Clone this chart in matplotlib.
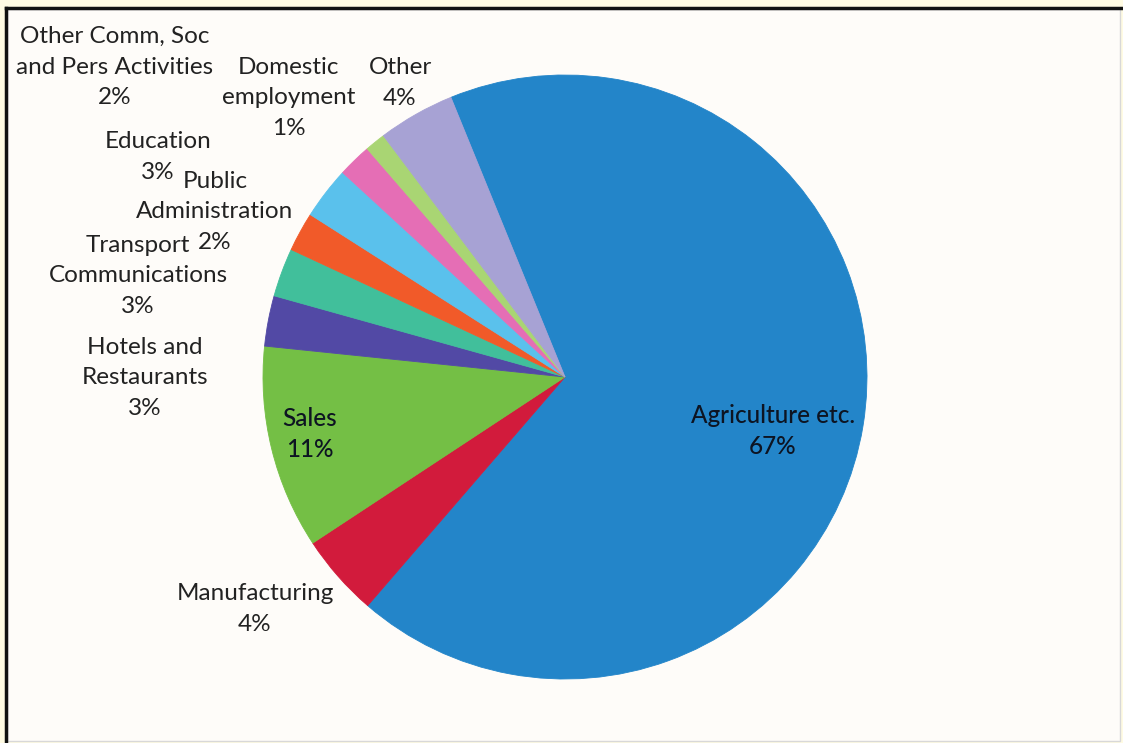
#!/usr/bin/env python3
"""Employment by sector - pie chart, Excel-style data labels."""

import matplotlib
matplotlib.use("Agg")
import matplotlib.pyplot as plt
from matplotlib.patches import Rectangle

# -- Data (clockwise from the top-left boundary of Agriculture) ------------------
sectors = [
    "Agriculture etc.",
    "Manufacturing",
    "Sales",
    "Hotels and\nRestaurants",
    "Transport\nCommunications",
    "Public\nAdministration",
    "Education",
    "Other Comm, Soc\nand Pers Activities",
    "Domestic\nemployment",
    "Other",
]
shares = [67.5, 4.4, 10.9, 2.7, 2.6, 2.1, 2.8, 1.8, 1.1, 4.1]   # % (slice size)
shown_pct = [67, 4, 11, 3, 3, 2, 3, 2, 1, 4]                    # % as labelled

colors = [
    "#2385c9", "#d21b3c", "#74bf45", "#5249a5", "#41bf9b",
    "#f15a29", "#5ac1ec", "#e56eb5", "#a9d573", "#a7a2d4",
]

# label centres in image pixels (x, y from top)
label_pos = [
    (773, 431), (255, 609), (310, 434), (145, 378), (138, 276),
    (215, 212), (158, 157), (115, 67), (289, 98), (400, 83),
]
LINE_H = 30.5   # px between label lines

W, H = 1123, 743
fig = plt.figure(figsize=(W / 100, H / 100), dpi=100)
fig.patch.set_facecolor("#fffbe3")

# inner white panel with dark top/left border
fig.patches.append(Rectangle((7 / W, 2 / H), (W - 10) / W, (H - 11) / H,
                             transform=fig.transFigure, facecolor="#fefcf9",
                             edgecolor="#d8d8d8", linewidth=1.0, zorder=-10))
fig.lines.append(plt.Line2D([6 / W, 6 / W], [2 / H, (H - 8) / H], transform=fig.transFigure,
                            color="#111111", linewidth=2.5, zorder=-5))
fig.lines.append(plt.Line2D([6 / W, 1.0], [(H - 8) / H, (H - 8) / H], transform=fig.transFigure,
                            color="#111111", linewidth=2.5, zorder=-5))

ax = fig.add_axes([0, 0, 1, 1])
ax.set_facecolor("none")

wedges, _ = ax.pie(
    shares, colors=colors, startangle=112.2, counterclock=False,
    center=(565, H - 377), radius=302,
    wedgeprops=dict(linewidth=0.6),
)
for w in wedges:
    w.set_edgecolor(w.get_facecolor())
ax.set_xlim(0, W)
ax.set_ylim(0, H)
ax.set_aspect("equal")
ax.axis("off")

# one text per line so neighbouring labels can interleave like Excel's
for name, pct, (x, y) in zip(sectors, shown_pct, label_pos):
    inside = name in ("Agriculture etc.", "Sales")
    lines = f"{name}\n{pct}%".split("\n")
    y0 = y - (len(lines) - 1) * LINE_H / 2
    for i, line in enumerate(lines):
        ax.text(x, H - (y0 + i * LINE_H), line, ha="center", va="center",
                fontsize=17.5, family="Lato",
                color="#0d1422" if inside else "#222222",
                fontweight="medium" if inside else "normal")

fig.savefig("out.png", dpi=100, facecolor=fig.get_facecolor())
